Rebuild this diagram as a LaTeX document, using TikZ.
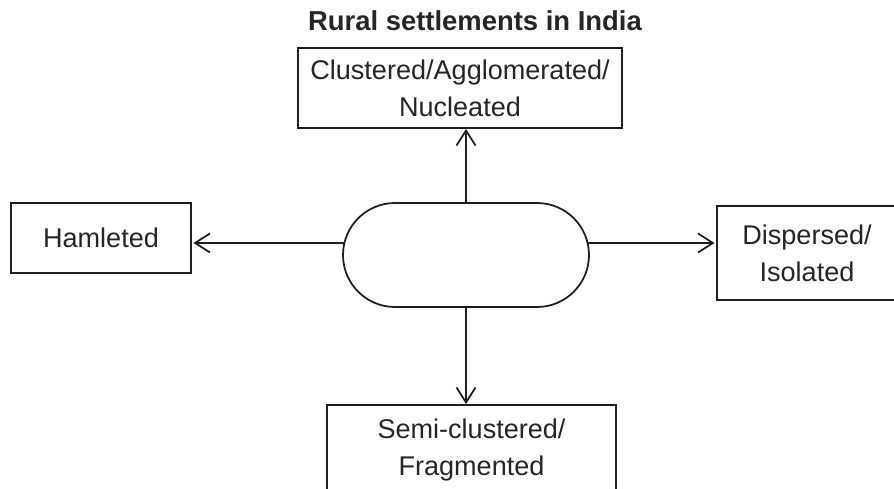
\documentclass[tikz,border=0pt]{standalone}
\usepackage{fontspec}
\setmainfont{Liberation Sans}
\usepackage{tikz}
\usetikzlibrary{arrows.meta}

\begin{document}
\begin{tikzpicture}[
		scale=1,
		MyBoxes/.style={draw=black!88,line width=1pt,align=center,inner sep=0pt},
		MyHub/.style={draw=black!88,line width=1pt,fill=white,rounded corners=1.04cm,minimum width=4.92cm,minimum height=2.08cm},
		Links/.style={draw=black!88,line width=1pt,-{Straight Barb[length=3mm,width=3.8mm]}},
		every node/.style={text=black!85,font=\fontsize{15.4}{21}\selectfont}
		]
		\useasboundingbox (0,0) rectangle (17.88,9.76);
		\clip (0,0) rectangle (17.88,9.76);
		
		\node[font=\bfseries\fontsize{15.6}{21}\selectfont,anchor=base] (title) at (9.5,9.14) {Rural settlements in India};
		
		\node[MyBoxes,minimum width=6.48cm,minimum height=1.6cm] (clustered) at (9.2,8.0) {Clustered/Agglomerated/\\Nucleated};
		
		\node[MyHub] (hub) at (9.32,4.66) {};
		
		\node[MyBoxes,minimum width=3.6cm,minimum height=1.4cm] (hamleted) at (2.02,5.0) {Hamleted};
		
		\node[MyBoxes,minimum width=3.6cm,minimum height=1.88cm] (dispersed) at (16.14,4.70) {Dispersed/\\Isolated};
		
		% cut off at the lower edge
		\node[MyBoxes,minimum width=5.78cm,minimum height=1.8cm] (semi) at (9.43,0.76) {Semi-clustered/\\Fragmented};
		
		
		\draw[Links] (hub.north) -- (hub.north |- clustered.south);
		\draw[Links] (hub.south) -- (hub.south |- semi.north);
		
		\draw[Links] ([shift={(0.03,0.24)}]hub.west) -- ([shift={(0.03,0.24)}]hub.west -| hamleted.east);
		\draw[Links] ([shift={(-0.03,0.24)}]hub.east) -- ([shift={(-0.03,0.24)}]hub.east -| dispersed.west);
		
\end{tikzpicture}
\end{document}
